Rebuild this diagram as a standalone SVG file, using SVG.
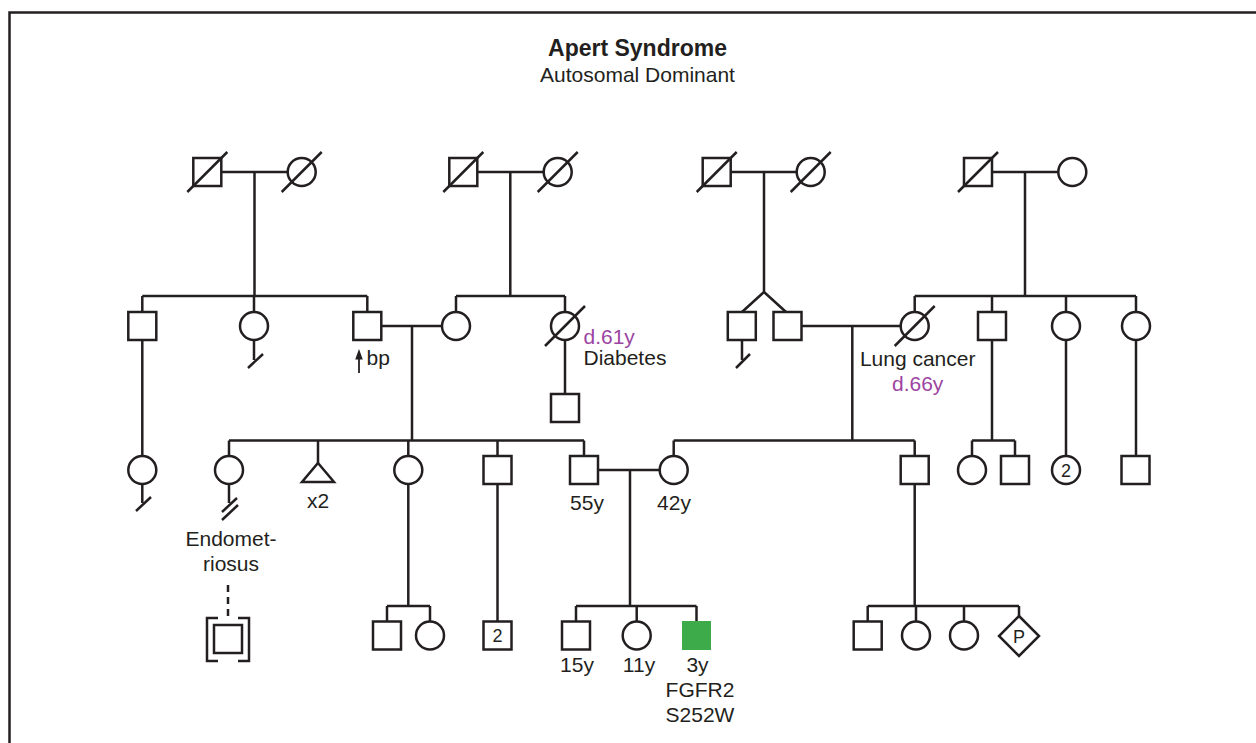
<svg xmlns="http://www.w3.org/2000/svg" width="1256" height="743" viewBox="0 0 1256 743">
<defs>
<style>
.s{fill:#fff;stroke:#231f20;stroke-width:2.5}
.l{fill:none;stroke:#231f20;stroke-width:2.5}
.d{fill:none;stroke:#231f20;stroke-width:2.5}
.t{font-family:"Liberation Sans",Arial,sans-serif;font-size:21px;fill:#231f20}
.c{text-anchor:middle}
.p{fill:#9c44a2}
.n{font-family:"Liberation Sans",Arial,sans-serif;font-size:18px;fill:#231f20;text-anchor:middle}
</style>
</defs>
<rect x="9.5" y="12.5" width="1270" height="760" fill="#fff" stroke="#231f20" stroke-width="2.5"/>
<text class="t c" x="637.5" y="56" style="font-weight:bold;font-size:23px">Apert Syndrome</text>
<text class="t c" x="637.5" y="81.5" style="font-size:21px">Autosomal Dominant</text>

<g id="connectors">
<!-- gen1 pair1 -->
<path class="l" d="M221.5,172 H287.5 M254.5,172 V296 M142.3,296 H367.3 M142.3,296 V312 M254,296 V312 M367.3,296 V312"/>
<!-- gen1 pair2 -->
<path class="l" d="M477.5,172 H543.5 M510.3,172 V296 M456,296 H565 M456,296 V312 M565,296 V312"/>
<!-- gen1 pair3 twins -->
<path class="l" d="M731,172 H796.5 M764,172 V292 L742,312 M764,292 L786,312"/>
<!-- gen1 pair4 -->
<path class="l" d="M992.3,172 H1058.3 M1025,172 V296 M914.7,296 H1136 M914.7,296 V312 M992,296 V312 M1066,296 V312 M1136,296 V312"/>
<!-- gen2 marriage1 -->
<path class="l" d="M381.5,326 H442 M412,326 V440.5 M229,440.5 H584 M229,440.5 V456 M318,440.5 V463 M408.3,440.5 V456 M497.5,440.5 V456 M584,440.5 V456"/>
<!-- gen2 marriage2 -->
<path class="l" d="M801.5,326 H900.7 M852.3,326 V440.5 M673.7,440.5 H914.7 M673.7,440.5 V456 M914.7,440.5 V456"/>
<!-- cousin lines -->
<path class="l" d="M142.3,340 V456"/>
<path class="l" d="M565,340 V394"/>
<path class="l" d="M992,340 V440.5 M972,440.5 H1015 M972,440.5 V456 M1015,440.5 V456"/>
<path class="l" d="M1066,340 V456"/>
<path class="l" d="M1136,340 V456"/>
<!-- no offspring marks -->
<path class="l" d="M254,340 V360 M248,368 L263,354"/>
<path class="l" d="M742,340 V360 M736,368 L750,354"/>
<path class="l" d="M142.3,484 V503 M136,511 L151,497"/>
<path class="l" d="M229,484 V503 M222,512 L237,498 M222,520 L238,505"/>
<!-- gen3 marriage -->
<path class="l" d="M598,470 H660 M630,470 V606 M576,606 H696.5 M576,606 V621.5 M636.7,606 V621.5 M696.5,606 V621.5"/>
<!-- gen3 other descents -->
<path class="l" d="M408.3,484 V606 M387,606 H430 M387,606 V621.5 M430,606 V621.5"/>
<path class="l" d="M497.5,484 V621.5"/>
<path class="l" d="M914.7,484 V606 M867.7,606 H1019 M867.7,606 V621.5 M916,606 V621.5 M964,606 V621.5 M1019,606 V616"/>
<!-- dashed adoption line -->
<path class="l" d="M228,585 V618" stroke-dasharray="7,5"/>
<!-- bp arrow -->
<path d="M359,373 V356" stroke="#231f20" stroke-width="1.8" fill="none"/>
<path d="M359,349 L362.8,359.5 L355.2,359.5 Z" fill="#231f20"/>
</g>

<!-- Generation I -->
<g id="g1-m1"><rect class="s" x="193.3" y="158" width="28" height="28"/><path class="d" d="M187.3,192 L227.3,152"/></g>
<g id="g1-f1"><circle class="s" cx="301.7" cy="172" r="14"/><path class="d" d="M281.7,192 L321.7,152"/></g>
<g id="g1-m2"><rect class="s" x="449.3" y="158" width="28" height="28"/><path class="d" d="M443.3,192 L483.3,152"/></g>
<g id="g1-f2"><circle class="s" cx="557.7" cy="172" r="14"/><path class="d" d="M537.7,192 L577.7,152"/></g>
<g id="g1-m3"><rect class="s" x="702.7" y="158" width="28" height="28"/><path class="d" d="M696.7,192 L736.7,152"/></g>
<g id="g1-f3"><circle class="s" cx="810.7" cy="172" r="14"/><path class="d" d="M790.7,192 L830.7,152"/></g>
<g id="g1-m4"><rect class="s" x="964" y="158" width="28" height="28"/><path class="d" d="M958,192 L998,152"/></g>
<g id="g1-f4"><circle class="s" cx="1072.3" cy="172" r="14"/></g>

<!-- Generation II -->
<g id="g2-1"><rect class="s" x="128.3" y="312" width="28" height="28"/></g>
<g id="g2-2"><circle class="s" cx="254" cy="326" r="14"/></g>
<g id="g2-3"><rect class="s" x="353.3" y="312" width="28" height="28"/><text class="t" x="366.5" y="364.5">bp</text></g>
<g id="g2-4"><circle class="s" cx="456" cy="326" r="14"/></g>
<g id="g2-5"><circle class="s" cx="565" cy="326" r="14"/><path class="d" d="M545,346 L585,306"/><text class="t p" x="583.5" y="343.5">d.61y</text><text class="t" x="583.5" y="365">Diabetes</text></g>
<g id="g2-6"><rect class="s" x="727.8" y="312" width="28" height="28"/></g>
<g id="g2-7"><rect class="s" x="773.5" y="312" width="28" height="28"/></g>
<g id="g2-8"><circle class="s" cx="914.7" cy="326" r="14"/><path class="d" d="M894.7,346 L934.7,306"/><text class="t c" x="917.7" y="366">Lung cancer</text><text class="t c p" x="917.7" y="391">d.66y</text></g>
<g id="g2-9"><rect class="s" x="978" y="312" width="28" height="28"/></g>
<g id="g2-10"><circle class="s" cx="1066" cy="326" r="14"/></g>
<g id="g2-11"><circle class="s" cx="1136" cy="326" r="14"/></g>
<g id="g2-12"><rect class="s" x="551" y="394" width="28" height="28"/></g>

<!-- Generation III -->
<g id="g3-1"><circle class="s" cx="142.3" cy="470" r="14"/></g>
<g id="g3-2"><circle class="s" cx="229" cy="470" r="14"/><text class="t c" x="231" y="546">Endomet-</text><text class="t c" x="231" y="571">riosus</text></g>
<g id="g3-3"><path class="s" d="M318,463 L334,482 H302 Z"/><text class="t c" x="318" y="508">x2</text></g>
<g id="g3-4"><circle class="s" cx="408.3" cy="470" r="14"/></g>
<g id="g3-5"><rect class="s" x="483.5" y="456" width="28" height="28"/></g>
<g id="g3-6"><rect class="s" x="570" y="456" width="28" height="28"/><text class="t c" x="587" y="510">55y</text></g>
<g id="g3-7"><circle class="s" cx="673.7" cy="470" r="14"/><text class="t c" x="674" y="510">42y</text></g>
<g id="g3-8"><rect class="s" x="900.7" y="456" width="28" height="28"/></g>
<g id="g3-9"><circle class="s" cx="972" cy="470" r="14"/></g>
<g id="g3-10"><rect class="s" x="1001" y="456" width="28" height="28"/></g>
<g id="g3-11"><circle class="s" cx="1066" cy="470" r="14"/><text class="n" x="1066" y="476.5">2</text></g>
<g id="g3-12"><rect class="s" x="1121.5" y="456" width="28" height="28"/></g>

<!-- Generation IV -->
<g id="g4-1"><rect class="s" x="214" y="625" width="28" height="28"/><path class="l" d="M218,618 H207 V661 H218 M238,618 H249 V661 H238"/></g>
<g id="g4-2"><rect class="s" x="373" y="621.5" width="28" height="28"/></g>
<g id="g4-3"><circle class="s" cx="430" cy="635.5" r="14"/></g>
<g id="g4-4"><rect class="s" x="483.5" y="621.5" width="28" height="28"/><text class="n" x="497.5" y="642">2</text></g>
<g id="g4-5"><rect class="s" x="562" y="621.5" width="28" height="28"/><text class="t c" x="577" y="672">15y</text></g>
<g id="g4-6"><circle class="s" cx="636.7" cy="635.5" r="14"/><text class="t c" x="639" y="672">11y</text></g>
<g id="g4-7"><rect x="682" y="621" width="29" height="29" fill="#3dab4a"/><text class="t c" x="697.5" y="672">3y</text><text class="t c" x="700" y="697">FGFR2</text><text class="t c" x="700" y="722">S252W</text></g>
<g id="g4-8"><rect class="s" x="853.7" y="621.5" width="28" height="28"/></g>
<g id="g4-9"><circle class="s" cx="916" cy="635.5" r="14"/></g>
<g id="g4-10"><circle class="s" cx="964" cy="635.5" r="14"/></g>
<g id="g4-11"><path class="s" d="M1019,616 L1039,636 L1019,656 L999,636 Z"/><text class="n" x="1019" y="642.5">P</text></g>
</svg>
